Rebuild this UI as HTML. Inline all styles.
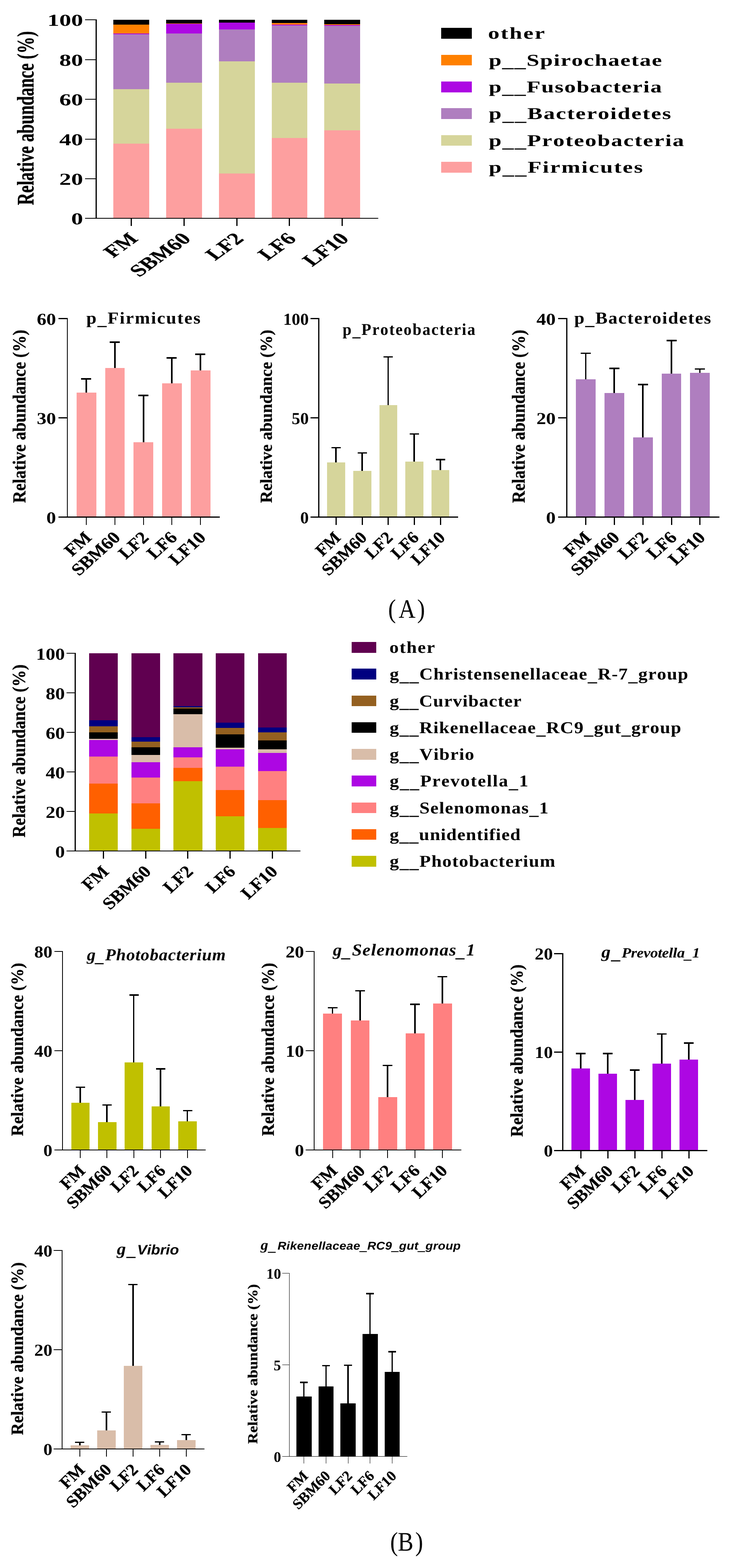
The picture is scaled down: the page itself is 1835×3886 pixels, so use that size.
<!DOCTYPE html>
<html lang="en"><head><meta charset="utf-8"><title>Relative abundance of intestinal microbiota</title>
<style>
html,body{margin:0;padding:0;background:#fff}
body{width:1835px;height:3886px;overflow:hidden}
svg{display:block}
text{fill:#000;font-kerning:none;text-rendering:geometricPrecision}
text.r{stroke:#000;stroke-width:0.4px;stroke-linejoin:round}
</style></head><body>
<svg width="1835" height="3886" viewBox="0 0 1835 3886" shape-rendering="crispEdges">
<rect x="0" y="0" width="1835" height="3886" fill="#fff"/>
<rect x="281.00" y="48.50" width="89.00" height="12.50" fill="#000"/>
<rect x="281.00" y="61.00" width="89.00" height="22.00" fill="#FF8000"/>
<rect x="281.00" y="83.00" width="89.00" height="2.00" fill="#AD07E3"/>
<rect x="281.00" y="85.00" width="89.00" height="136.00" fill="#AF7EBF"/>
<rect x="281.00" y="221.00" width="89.00" height="135.00" fill="#D6D59B"/>
<rect x="281.00" y="356.00" width="89.00" height="185.00" fill="#FD9F9F"/>
<rect x="412.00" y="48.50" width="89.00" height="9.50" fill="#000"/>
<rect x="412.00" y="58.00" width="89.00" height="1.00" fill="#FF8000"/>
<rect x="412.00" y="59.00" width="89.00" height="24.00" fill="#AD07E3"/>
<rect x="412.00" y="83.00" width="89.00" height="122.00" fill="#AF7EBF"/>
<rect x="412.00" y="205.00" width="89.00" height="114.00" fill="#D6D59B"/>
<rect x="412.00" y="319.00" width="89.00" height="222.00" fill="#FD9F9F"/>
<rect x="543.00" y="48.50" width="89.00" height="7.50" fill="#000"/>
<rect x="543.00" y="56.00" width="89.00" height="17.00" fill="#AD07E3"/>
<rect x="543.00" y="73.00" width="89.00" height="79.00" fill="#AF7EBF"/>
<rect x="543.00" y="152.00" width="89.00" height="278.00" fill="#D6D59B"/>
<rect x="543.00" y="430.00" width="89.00" height="111.00" fill="#FD9F9F"/>
<rect x="674.00" y="48.50" width="88.00" height="8.50" fill="#000"/>
<rect x="674.00" y="57.00" width="88.00" height="4.00" fill="#FF8000"/>
<rect x="674.00" y="61.00" width="88.00" height="2.00" fill="#AD07E3"/>
<rect x="674.00" y="63.00" width="88.00" height="142.00" fill="#AF7EBF"/>
<rect x="674.00" y="205.00" width="88.00" height="137.00" fill="#D6D59B"/>
<rect x="674.00" y="342.00" width="88.00" height="199.00" fill="#FD9F9F"/>
<rect x="804.00" y="48.50" width="89.00" height="11.00" fill="#000"/>
<rect x="804.00" y="59.50" width="89.00" height="2.50" fill="#FF8000"/>
<rect x="804.00" y="62.00" width="89.00" height="2.00" fill="#AD07E3"/>
<rect x="804.00" y="64.00" width="89.00" height="143.00" fill="#AF7EBF"/>
<rect x="804.00" y="207.00" width="89.00" height="116.00" fill="#D6D59B"/>
<rect x="804.00" y="323.00" width="89.00" height="218.00" fill="#FD9F9F"/>
<rect x="237.00" y="48.00" width="3.00" height="494.00" fill="#000"/>
<rect x="211.00" y="48.00" width="27.50" height="2.00" fill="#000"/>
<text transform="matrix(1.47325 0.00000 0.00000 1.03750 117.46 64.00)" font-family="'Liberation Serif', serif" font-weight="bold" font-style="normal" font-size="40" >100</text>
<rect x="211.00" y="146.50" width="27.50" height="2.00" fill="#000"/>
<text transform="matrix(1.47325 0.00000 0.00000 1.03750 146.93 162.50)" font-family="'Liberation Serif', serif" font-weight="bold" font-style="normal" font-size="40" >80</text>
<rect x="211.00" y="245.00" width="27.50" height="2.00" fill="#000"/>
<text transform="matrix(1.47325 0.00000 0.00000 1.03750 146.93 261.00)" font-family="'Liberation Serif', serif" font-weight="bold" font-style="normal" font-size="40" >60</text>
<rect x="211.00" y="343.50" width="27.50" height="2.00" fill="#000"/>
<text transform="matrix(1.47325 0.00000 0.00000 1.03750 146.93 359.50)" font-family="'Liberation Serif', serif" font-weight="bold" font-style="normal" font-size="40" >40</text>
<rect x="211.00" y="442.00" width="27.50" height="2.00" fill="#000"/>
<text transform="matrix(1.47325 0.00000 0.00000 1.03750 146.93 458.00)" font-family="'Liberation Serif', serif" font-weight="bold" font-style="normal" font-size="40" >20</text>
<rect x="211.00" y="540.00" width="27.50" height="2.00" fill="#000"/>
<text transform="matrix(1.47325 0.00000 0.00000 1.03750 176.39 556.00)" font-family="'Liberation Serif', serif" font-weight="bold" font-style="normal" font-size="40" >0</text>
<rect x="211.00" y="540.00" width="726.50" height="2.00" fill="#000"/>
<rect x="324.00" y="541.00" width="3.00" height="18.50" fill="#000"/>
<text transform="matrix(1.03202 -0.74246 1.03202 0.74246 280.82 640.17)" font-family="'Liberation Serif', serif" font-weight="bold" font-style="normal" font-size="40"  class="r">FM</text>
<rect x="455.00" y="541.00" width="3.00" height="18.50" fill="#000"/>
<text transform="matrix(1.03202 -0.74246 1.03202 0.74246 345.26 688.06)" font-family="'Liberation Serif', serif" font-weight="bold" font-style="normal" font-size="40"  class="r">SBM60</text>
<rect x="586.00" y="541.00" width="3.00" height="18.50" fill="#000"/>
<text transform="matrix(1.03202 -0.74246 1.03202 0.74246 533.61 646.80)" font-family="'Liberation Serif', serif" font-weight="bold" font-style="normal" font-size="40"  class="r">LF2</text>
<rect x="716.00" y="541.00" width="3.00" height="18.50" fill="#000"/>
<text transform="matrix(1.03202 -0.74246 1.03202 0.74246 663.61 646.80)" font-family="'Liberation Serif', serif" font-weight="bold" font-style="normal" font-size="40"  class="r">LF6</text>
<rect x="847.00" y="541.00" width="3.00" height="18.50" fill="#000"/>
<text transform="matrix(1.03202 -0.74246 1.03202 0.74246 773.97 661.65)" font-family="'Liberation Serif', serif" font-weight="bold" font-style="normal" font-size="40"  class="r">LF10</text>
<text transform="matrix(0.00000 -1.04258 1.46978 0.00000 83.36 508.13)" font-family="'Liberation Serif', serif" font-weight="bold" font-style="normal" font-size="40"  class="r">Relative abundance (%)</text>
<rect x="1094.00" y="69.00" width="76.00" height="26.50" fill="#000"/>
<text transform="matrix(1.41450 0.00000 0.00000 1.02500 1210.24 96.00)" font-family="'Liberation Serif', serif" font-weight="bold" font-style="normal" font-size="40" letter-spacing="2.102">other</text>
<rect x="1094.00" y="135.50" width="76.00" height="26.50" fill="#FF8000"/>
<text transform="matrix(1.41450 0.00000 0.00000 1.02500 1211.93 162.50)" font-family="'Liberation Serif', serif" font-weight="bold" font-style="normal" font-size="40" letter-spacing="1.373">p<tspan dy="3.30">__</tspan><tspan dy="-3.30">Spirochaetae</tspan></text>
<rect x="1094.00" y="202.00" width="76.00" height="26.50" fill="#AD07E3"/>
<text transform="matrix(1.41450 0.00000 0.00000 1.02500 1211.93 229.00)" font-family="'Liberation Serif', serif" font-weight="bold" font-style="normal" font-size="40" letter-spacing="1.345">p<tspan dy="3.30">__</tspan><tspan dy="-3.30">Fusobacteria</tspan></text>
<rect x="1094.00" y="268.40" width="76.00" height="26.50" fill="#AF7EBF"/>
<text transform="matrix(1.41450 0.00000 0.00000 1.02500 1211.93 295.40)" font-family="'Liberation Serif', serif" font-weight="bold" font-style="normal" font-size="40" letter-spacing="1.756">p<tspan dy="3.30">__</tspan><tspan dy="-3.30">Bacteroidetes</tspan></text>
<rect x="1094.00" y="334.80" width="76.00" height="26.50" fill="#D6D59B"/>
<text transform="matrix(1.41450 0.00000 0.00000 1.02500 1211.93 361.80)" font-family="'Liberation Serif', serif" font-weight="bold" font-style="normal" font-size="40" letter-spacing="1.669">p<tspan dy="3.30">__</tspan><tspan dy="-3.30">Proteobacteria</tspan></text>
<rect x="1094.00" y="401.20" width="76.00" height="26.50" fill="#FD9F9F"/>
<text transform="matrix(1.41450 0.00000 0.00000 1.02500 1211.93 428.20)" font-family="'Liberation Serif', serif" font-weight="bold" font-style="normal" font-size="40" letter-spacing="1.954">p<tspan dy="3.30">__</tspan><tspan dy="-3.30">Firmicutes</tspan></text>
<rect x="212.00" y="939.00" width="4.00" height="35.00" fill="#000"/>
<rect x="201.00" y="937.00" width="25.00" height="4.00" fill="#000"/>
<rect x="190.00" y="973.00" width="49.00" height="308.50" fill="#FD9F9F"/>
<rect x="283.00" y="847.50" width="4.00" height="65.50" fill="#000"/>
<rect x="272.00" y="845.50" width="25.00" height="4.00" fill="#000"/>
<rect x="261.00" y="912.00" width="48.00" height="369.50" fill="#FD9F9F"/>
<rect x="353.50" y="980.00" width="4.00" height="117.00" fill="#000"/>
<rect x="342.50" y="978.00" width="25.00" height="4.00" fill="#000"/>
<rect x="331.00" y="1096.00" width="49.00" height="185.50" fill="#FD9F9F"/>
<rect x="424.00" y="886.50" width="4.00" height="64.50" fill="#000"/>
<rect x="413.00" y="884.50" width="25.00" height="4.00" fill="#000"/>
<rect x="402.00" y="950.00" width="49.00" height="331.50" fill="#FD9F9F"/>
<rect x="495.00" y="878.00" width="4.00" height="41.00" fill="#000"/>
<rect x="484.00" y="876.00" width="25.00" height="4.00" fill="#000"/>
<rect x="473.00" y="918.00" width="49.00" height="363.50" fill="#FD9F9F"/>
<rect x="166.00" y="788.00" width="2.00" height="495.00" fill="#000"/>
<rect x="145.00" y="788.00" width="22.00" height="3.00" fill="#000"/>
<text transform="matrix(1.19312 0.00000 0.00000 1.03750 91.18 805.30)" font-family="'Liberation Serif', serif" font-weight="bold" font-style="normal" font-size="40" >60</text>
<rect x="145.00" y="1034.00" width="22.00" height="3.00" fill="#000"/>
<text transform="matrix(1.19312 0.00000 0.00000 1.03750 91.18 1051.30)" font-family="'Liberation Serif', serif" font-weight="bold" font-style="normal" font-size="40" >30</text>
<rect x="145.00" y="1280.00" width="22.00" height="3.00" fill="#000"/>
<text transform="matrix(1.19312 0.00000 0.00000 1.03750 115.05 1297.30)" font-family="'Liberation Serif', serif" font-weight="bold" font-style="normal" font-size="40" >0</text>
<rect x="145.00" y="1280.00" width="400.00" height="3.00" fill="#000"/>
<rect x="213.00" y="1281.50" width="2.00" height="19.50" fill="#000"/>
<text transform="matrix(0.83156 -0.74246 0.83156 0.74246 178.29 1380.87)" font-family="'Liberation Serif', serif" font-weight="bold" font-style="normal" font-size="40"  class="r">FM</text>
<rect x="284.00" y="1281.50" width="2.00" height="19.50" fill="#000"/>
<text transform="matrix(0.83156 -0.74246 0.83156 0.74246 195.66 1428.76)" font-family="'Liberation Serif', serif" font-weight="bold" font-style="normal" font-size="40"  class="r">SBM60</text>
<rect x="354.50" y="1281.50" width="2.00" height="19.50" fill="#000"/>
<text transform="matrix(0.83156 -0.74246 0.83156 0.74246 312.36 1387.50)" font-family="'Liberation Serif', serif" font-weight="bold" font-style="normal" font-size="40"  class="r">LF2</text>
<rect x="425.00" y="1281.50" width="2.00" height="19.50" fill="#000"/>
<text transform="matrix(0.83156 -0.74246 0.83156 0.74246 382.86 1387.50)" font-family="'Liberation Serif', serif" font-weight="bold" font-style="normal" font-size="40"  class="r">LF6</text>
<rect x="496.00" y="1281.50" width="2.00" height="19.50" fill="#000"/>
<text transform="matrix(0.83156 -0.74246 0.83156 0.74246 437.23 1402.35)" font-family="'Liberation Serif', serif" font-weight="bold" font-style="normal" font-size="40"  class="r">LF10</text>
<text transform="matrix(0.00000 -1.03893 1.14011 0.00000 62.70 1246.62)" font-family="'Liberation Serif', serif" font-weight="bold" font-style="normal" font-size="40"  class="r">Relative abundance (%)</text>
<text transform="matrix(1.13088 0.00000 0.00000 1.03750 214.05 801.70)" font-family="'Liberation Serif', serif" font-weight="bold" font-style="normal" font-size="40" letter-spacing="2.157">p<tspan dy="3.30">_</tspan><tspan dy="-3.30">Firmicutes</tspan></text>
<rect x="831.25" y="1109.50" width="3.50" height="37.50" fill="#000"/>
<rect x="821.50" y="1107.75" width="23.00" height="3.50" fill="#000"/>
<rect x="811.00" y="1146.00" width="45.00" height="135.50" fill="#D6D59B"/>
<rect x="896.25" y="1122.50" width="3.50" height="45.50" fill="#000"/>
<rect x="886.50" y="1120.75" width="23.00" height="3.50" fill="#000"/>
<rect x="876.00" y="1167.00" width="45.00" height="114.50" fill="#D6D59B"/>
<rect x="960.75" y="884.50" width="3.50" height="120.50" fill="#000"/>
<rect x="951.00" y="882.75" width="23.00" height="3.50" fill="#000"/>
<rect x="941.00" y="1004.00" width="44.00" height="277.50" fill="#D6D59B"/>
<rect x="1025.25" y="1075.50" width="3.50" height="69.50" fill="#000"/>
<rect x="1015.50" y="1073.75" width="23.00" height="3.50" fill="#000"/>
<rect x="1005.00" y="1144.00" width="45.00" height="137.50" fill="#D6D59B"/>
<rect x="1090.25" y="1139.00" width="3.50" height="27.00" fill="#000"/>
<rect x="1080.50" y="1137.25" width="23.00" height="3.50" fill="#000"/>
<rect x="1070.00" y="1165.00" width="44.00" height="116.50" fill="#D6D59B"/>
<rect x="789.00" y="788.00" width="3.00" height="495.00" fill="#000"/>
<rect x="770.00" y="788.00" width="20.50" height="3.00" fill="#000"/>
<text transform="matrix(1.05825 0.00000 0.00000 1.03750 702.20 805.30)" font-family="'Liberation Serif', serif" font-weight="bold" font-style="normal" font-size="40" >100</text>
<rect x="770.00" y="1034.00" width="20.50" height="3.00" fill="#000"/>
<text transform="matrix(1.05825 0.00000 0.00000 1.03750 723.36 1051.30)" font-family="'Liberation Serif', serif" font-weight="bold" font-style="normal" font-size="40" >50</text>
<rect x="770.00" y="1280.00" width="20.50" height="3.00" fill="#000"/>
<text transform="matrix(1.05825 0.00000 0.00000 1.03750 744.53 1297.30)" font-family="'Liberation Serif', serif" font-weight="bold" font-style="normal" font-size="40" >0</text>
<rect x="770.00" y="1280.00" width="366.00" height="3.00" fill="#000"/>
<rect x="831.50" y="1281.50" width="3.00" height="19.50" fill="#000"/>
<text transform="matrix(0.76474 -0.74246 0.76474 0.74246 799.44 1380.87)" font-family="'Liberation Serif', serif" font-weight="bold" font-style="normal" font-size="40"  class="r">FM</text>
<rect x="896.50" y="1281.50" width="3.00" height="19.50" fill="#000"/>
<text transform="matrix(0.76474 -0.74246 0.76474 0.74246 815.12 1428.76)" font-family="'Liberation Serif', serif" font-weight="bold" font-style="normal" font-size="40"  class="r">SBM60</text>
<rect x="961.00" y="1281.50" width="3.00" height="19.50" fill="#000"/>
<text transform="matrix(0.76474 -0.74246 0.76474 0.74246 922.12 1387.50)" font-family="'Liberation Serif', serif" font-weight="bold" font-style="normal" font-size="40"  class="r">LF2</text>
<rect x="1025.50" y="1281.50" width="3.00" height="19.50" fill="#000"/>
<text transform="matrix(0.76474 -0.74246 0.76474 0.74246 986.62 1387.50)" font-family="'Liberation Serif', serif" font-weight="bold" font-style="normal" font-size="40"  class="r">LF6</text>
<rect x="1090.50" y="1281.50" width="3.00" height="19.50" fill="#000"/>
<text transform="matrix(0.76474 -0.74246 0.76474 0.74246 1036.32 1402.35)" font-family="'Liberation Serif', serif" font-weight="bold" font-style="normal" font-size="40"  class="r">LF10</text>
<text transform="matrix(0.00000 -1.03893 1.04396 0.00000 674.02 1246.62)" font-family="'Liberation Serif', serif" font-weight="bold" font-style="normal" font-size="40"  class="r">Relative abundance (%)</text>
<text transform="matrix(0.99425 0.00000 0.00000 1.02500 849.60 830.00)" font-family="'Liberation Serif', serif" font-weight="bold" font-style="normal" font-size="40" letter-spacing="2.366">p<tspan dy="3.30">_</tspan><tspan dy="-3.30">Proteobacteria</tspan></text>
<rect x="1450.75" y="875.50" width="3.50" height="65.50" fill="#000"/>
<rect x="1440.00" y="873.75" width="25.00" height="3.50" fill="#000"/>
<rect x="1428.00" y="940.00" width="49.00" height="341.50" fill="#AF7EBF"/>
<rect x="1521.25" y="913.00" width="3.50" height="62.00" fill="#000"/>
<rect x="1510.50" y="911.25" width="25.00" height="3.50" fill="#000"/>
<rect x="1499.00" y="974.00" width="49.00" height="307.50" fill="#AF7EBF"/>
<rect x="1592.25" y="953.00" width="3.50" height="132.00" fill="#000"/>
<rect x="1581.50" y="951.25" width="25.00" height="3.50" fill="#000"/>
<rect x="1570.00" y="1084.00" width="49.00" height="197.50" fill="#AF7EBF"/>
<rect x="1663.25" y="844.00" width="3.50" height="83.00" fill="#000"/>
<rect x="1652.50" y="842.25" width="25.00" height="3.50" fill="#000"/>
<rect x="1641.00" y="926.00" width="48.00" height="355.50" fill="#AF7EBF"/>
<rect x="1733.75" y="914.50" width="3.50" height="10.50" fill="#000"/>
<rect x="1723.00" y="912.75" width="25.00" height="3.50" fill="#000"/>
<rect x="1711.00" y="924.00" width="49.00" height="357.50" fill="#AF7EBF"/>
<rect x="1404.00" y="788.00" width="3.00" height="495.00" fill="#000"/>
<rect x="1383.50" y="788.00" width="22.00" height="3.00" fill="#000"/>
<text transform="matrix(1.19312 0.00000 0.00000 1.03750 1330.18 805.30)" font-family="'Liberation Serif', serif" font-weight="bold" font-style="normal" font-size="40" >40</text>
<rect x="1383.50" y="1034.00" width="22.00" height="3.00" fill="#000"/>
<text transform="matrix(1.19312 0.00000 0.00000 1.03750 1330.18 1051.30)" font-family="'Liberation Serif', serif" font-weight="bold" font-style="normal" font-size="40" >20</text>
<rect x="1383.50" y="1280.00" width="22.00" height="3.00" fill="#000"/>
<text transform="matrix(1.19312 0.00000 0.00000 1.03750 1354.05 1297.30)" font-family="'Liberation Serif', serif" font-weight="bold" font-style="normal" font-size="40" >0</text>
<rect x="1383.50" y="1280.00" width="400.50" height="3.00" fill="#000"/>
<rect x="1451.00" y="1281.50" width="3.00" height="19.50" fill="#000"/>
<text transform="matrix(0.83156 -0.74246 0.83156 0.74246 1416.79 1380.87)" font-family="'Liberation Serif', serif" font-weight="bold" font-style="normal" font-size="40"  class="r">FM</text>
<rect x="1521.50" y="1281.50" width="3.00" height="19.50" fill="#000"/>
<text transform="matrix(0.83156 -0.74246 0.83156 0.74246 1433.66 1428.76)" font-family="'Liberation Serif', serif" font-weight="bold" font-style="normal" font-size="40"  class="r">SBM60</text>
<rect x="1592.50" y="1281.50" width="3.00" height="19.50" fill="#000"/>
<text transform="matrix(0.83156 -0.74246 0.83156 0.74246 1550.86 1387.50)" font-family="'Liberation Serif', serif" font-weight="bold" font-style="normal" font-size="40"  class="r">LF2</text>
<rect x="1663.50" y="1281.50" width="3.00" height="19.50" fill="#000"/>
<text transform="matrix(0.83156 -0.74246 0.83156 0.74246 1621.86 1387.50)" font-family="'Liberation Serif', serif" font-weight="bold" font-style="normal" font-size="40"  class="r">LF6</text>
<rect x="1734.00" y="1281.50" width="3.00" height="19.50" fill="#000"/>
<text transform="matrix(0.83156 -0.74246 0.83156 0.74246 1675.73 1402.35)" font-family="'Liberation Serif', serif" font-weight="bold" font-style="normal" font-size="40"  class="r">LF10</text>
<text transform="matrix(0.00000 -1.03893 1.14011 0.00000 1301.20 1246.62)" font-family="'Liberation Serif', serif" font-weight="bold" font-style="normal" font-size="40"  class="r">Relative abundance (%)</text>
<text transform="matrix(1.13088 0.00000 0.00000 1.03750 1424.05 801.70)" font-family="'Liberation Serif', serif" font-weight="bold" font-style="normal" font-size="40" letter-spacing="1.903">p<tspan dy="3.30">_</tspan><tspan dy="-3.30">Bacteroidetes</tspan></text>
<text transform="matrix(1.45000 0 0 1.64835 0 1530.82)" font-family="'Liberation Serif', serif" font-size="40" x="663.79 681.71 713.43">(A)</text>
<rect x="221.00" y="1619.00" width="71.00" height="166.00" fill="#600050"/>
<rect x="221.00" y="1785.00" width="71.00" height="15.00" fill="#000080"/>
<rect x="221.00" y="1800.00" width="71.00" height="15.00" fill="#946020"/>
<rect x="221.00" y="1815.00" width="71.00" height="16.00" fill="#000"/>
<rect x="221.00" y="1831.00" width="71.00" height="3.00" fill="#D9BDA9"/>
<rect x="221.00" y="1834.00" width="71.00" height="41.00" fill="#AD07E3"/>
<rect x="221.00" y="1875.00" width="71.00" height="67.00" fill="#FF8080"/>
<rect x="221.00" y="1942.00" width="71.00" height="74.00" fill="#FF6000"/>
<rect x="221.00" y="2016.00" width="71.00" height="93.00" fill="#C0C000"/>
<rect x="326.00" y="1619.00" width="71.00" height="208.00" fill="#600050"/>
<rect x="326.00" y="1827.00" width="71.00" height="11.00" fill="#000080"/>
<rect x="326.00" y="1838.00" width="71.00" height="14.00" fill="#946020"/>
<rect x="326.00" y="1852.00" width="71.00" height="19.00" fill="#000"/>
<rect x="326.00" y="1871.00" width="71.00" height="18.00" fill="#D9BDA9"/>
<rect x="326.00" y="1889.00" width="71.00" height="38.00" fill="#AD07E3"/>
<rect x="326.00" y="1927.00" width="71.00" height="64.00" fill="#FF8080"/>
<rect x="326.00" y="1991.00" width="71.00" height="63.00" fill="#FF6000"/>
<rect x="326.00" y="2054.00" width="71.00" height="55.00" fill="#C0C000"/>
<rect x="430.00" y="1619.00" width="72.00" height="131.00" fill="#600050"/>
<rect x="430.00" y="1750.00" width="72.00" height="3.00" fill="#000080"/>
<rect x="430.00" y="1753.00" width="72.00" height="3.00" fill="#946020"/>
<rect x="430.00" y="1756.00" width="72.00" height="14.00" fill="#000"/>
<rect x="430.00" y="1770.00" width="72.00" height="82.00" fill="#D9BDA9"/>
<rect x="430.00" y="1852.00" width="72.00" height="25.00" fill="#AD07E3"/>
<rect x="430.00" y="1877.00" width="72.00" height="26.00" fill="#FF8080"/>
<rect x="430.00" y="1903.00" width="72.00" height="33.00" fill="#FF6000"/>
<rect x="430.00" y="1936.00" width="72.00" height="173.00" fill="#C0C000"/>
<rect x="535.00" y="1619.00" width="71.00" height="172.00" fill="#600050"/>
<rect x="535.00" y="1791.00" width="71.00" height="13.00" fill="#000080"/>
<rect x="535.00" y="1804.00" width="71.00" height="16.00" fill="#946020"/>
<rect x="535.00" y="1820.00" width="71.00" height="33.00" fill="#000"/>
<rect x="535.00" y="1853.00" width="71.00" height="4.00" fill="#D9BDA9"/>
<rect x="535.00" y="1857.00" width="71.00" height="43.00" fill="#AD07E3"/>
<rect x="535.00" y="1900.00" width="71.00" height="58.00" fill="#FF8080"/>
<rect x="535.00" y="1958.00" width="71.00" height="65.00" fill="#FF6000"/>
<rect x="535.00" y="2023.00" width="71.00" height="86.00" fill="#C0C000"/>
<rect x="640.00" y="1619.00" width="71.00" height="184.00" fill="#600050"/>
<rect x="640.00" y="1803.00" width="71.00" height="12.00" fill="#000080"/>
<rect x="640.00" y="1815.00" width="71.00" height="20.00" fill="#946020"/>
<rect x="640.00" y="1835.00" width="71.00" height="22.00" fill="#000"/>
<rect x="640.00" y="1857.00" width="71.00" height="9.00" fill="#D9BDA9"/>
<rect x="640.00" y="1866.00" width="71.00" height="45.00" fill="#AD07E3"/>
<rect x="640.00" y="1911.00" width="71.00" height="72.00" fill="#FF8080"/>
<rect x="640.00" y="1983.00" width="71.00" height="69.00" fill="#FF6000"/>
<rect x="640.00" y="2052.00" width="71.00" height="57.00" fill="#C0C000"/>
<rect x="185.00" y="1618.00" width="3.00" height="492.00" fill="#000"/>
<rect x="165.00" y="1618.00" width="21.50" height="2.00" fill="#000"/>
<text transform="matrix(1.19312 0.00000 0.00000 1.03750 89.32 1634.80)" font-family="'Liberation Serif', serif" font-weight="bold" font-style="normal" font-size="40" >100</text>
<rect x="165.00" y="1716.00" width="21.50" height="2.00" fill="#000"/>
<text transform="matrix(1.19312 0.00000 0.00000 1.03750 113.18 1732.80)" font-family="'Liberation Serif', serif" font-weight="bold" font-style="normal" font-size="40" >80</text>
<rect x="165.00" y="1814.00" width="21.50" height="2.00" fill="#000"/>
<text transform="matrix(1.19312 0.00000 0.00000 1.03750 113.18 1830.80)" font-family="'Liberation Serif', serif" font-weight="bold" font-style="normal" font-size="40" >60</text>
<rect x="165.00" y="1912.00" width="21.50" height="2.00" fill="#000"/>
<text transform="matrix(1.19312 0.00000 0.00000 1.03750 113.18 1928.80)" font-family="'Liberation Serif', serif" font-weight="bold" font-style="normal" font-size="40" >40</text>
<rect x="165.00" y="2010.00" width="21.50" height="2.00" fill="#000"/>
<text transform="matrix(1.19312 0.00000 0.00000 1.03750 113.18 2026.80)" font-family="'Liberation Serif', serif" font-weight="bold" font-style="normal" font-size="40" >20</text>
<rect x="165.00" y="2108.00" width="21.50" height="2.00" fill="#000"/>
<text transform="matrix(1.19312 0.00000 0.00000 1.03750 137.05 2124.80)" font-family="'Liberation Serif', serif" font-weight="bold" font-style="normal" font-size="40" >0</text>
<rect x="165.00" y="2108.00" width="580.00" height="2.00" fill="#000"/>
<rect x="255.00" y="2109.00" width="3.00" height="19.00" fill="#000"/>
<text transform="matrix(0.82413 -0.74246 0.82413 0.74246 221.25 2208.67)" font-family="'Liberation Serif', serif" font-weight="bold" font-style="normal" font-size="40"  class="r">FM</text>
<rect x="359.50" y="2109.00" width="3.00" height="19.00" fill="#000"/>
<text transform="matrix(0.82413 -0.74246 0.82413 0.74246 272.60 2256.56)" font-family="'Liberation Serif', serif" font-weight="bold" font-style="normal" font-size="40"  class="r">SBM60</text>
<rect x="464.00" y="2109.00" width="3.00" height="19.00" fill="#000"/>
<text transform="matrix(0.82413 -0.74246 0.82413 0.74246 422.89 2215.30)" font-family="'Liberation Serif', serif" font-weight="bold" font-style="normal" font-size="40"  class="r">LF2</text>
<rect x="569.00" y="2109.00" width="3.00" height="19.00" fill="#000"/>
<text transform="matrix(0.82413 -0.74246 0.82413 0.74246 527.89 2215.30)" font-family="'Liberation Serif', serif" font-weight="bold" font-style="normal" font-size="40"  class="r">LF6</text>
<rect x="673.50" y="2109.00" width="3.00" height="19.00" fill="#000"/>
<text transform="matrix(0.82413 -0.74246 0.82413 0.74246 615.91 2230.15)" font-family="'Liberation Serif', serif" font-weight="bold" font-style="normal" font-size="40"  class="r">LF10</text>
<text transform="matrix(0.00000 -1.03771 1.14011 0.00000 61.70 2075.62)" font-family="'Liberation Serif', serif" font-weight="bold" font-style="normal" font-size="40"  class="r">Relative abundance (%)</text>
<rect x="872.00" y="1591.00" width="61.00" height="26.50" fill="#600050"/>
<text transform="matrix(1.14800 0.00000 0.00000 1.02500 965.66 1618.00)" font-family="'Liberation Serif', serif" font-weight="bold" font-style="normal" font-size="40" letter-spacing="1.755">other</text>
<rect x="872.00" y="1657.25" width="61.00" height="26.50" fill="#000080"/>
<text transform="matrix(1.14800 0.00000 0.00000 1.02500 966.35 1684.25)" font-family="'Liberation Serif', serif" font-weight="bold" font-style="normal" font-size="40" letter-spacing="1.367">g<tspan dy="3.30">__</tspan><tspan dy="-3.30">Christensenellaceae</tspan><tspan dy="3.30">_</tspan><tspan dy="-3.30">R-7</tspan><tspan dy="3.30">_</tspan><tspan dy="-3.30">group</tspan></text>
<rect x="872.00" y="1723.50" width="61.00" height="26.50" fill="#946020"/>
<text transform="matrix(1.14800 0.00000 0.00000 1.02500 966.35 1750.50)" font-family="'Liberation Serif', serif" font-weight="bold" font-style="normal" font-size="40" letter-spacing="1.205">g<tspan dy="3.30">__</tspan><tspan dy="-3.30">Curvibacter</tspan></text>
<rect x="872.00" y="1789.75" width="61.00" height="26.50" fill="#000"/>
<text transform="matrix(1.14800 0.00000 0.00000 1.02500 966.35 1816.75)" font-family="'Liberation Serif', serif" font-weight="bold" font-style="normal" font-size="40" letter-spacing="1.322">g<tspan dy="3.30">__</tspan><tspan dy="-3.30">Rikenellaceae</tspan><tspan dy="3.30">_</tspan><tspan dy="-3.30">RC9</tspan><tspan dy="3.30">_</tspan><tspan dy="-3.30">gut</tspan><tspan dy="3.30">_</tspan><tspan dy="-3.30">group</tspan></text>
<rect x="872.00" y="1856.00" width="61.00" height="26.50" fill="#D9BDA9"/>
<text transform="matrix(1.14800 0.00000 0.00000 1.02500 966.35 1883.00)" font-family="'Liberation Serif', serif" font-weight="bold" font-style="normal" font-size="40" letter-spacing="1.410">g<tspan dy="3.30">__</tspan><tspan dy="-3.30">Vibrio</tspan></text>
<rect x="872.00" y="1922.25" width="61.00" height="26.50" fill="#AD07E3"/>
<text transform="matrix(1.14800 0.00000 0.00000 1.02500 966.35 1949.25)" font-family="'Liberation Serif', serif" font-weight="bold" font-style="normal" font-size="40" letter-spacing="1.855">g<tspan dy="3.30">__</tspan><tspan dy="-3.30">Prevotella</tspan><tspan dy="3.30">_</tspan><tspan dy="-3.30">1</tspan></text>
<rect x="872.00" y="1988.50" width="61.00" height="26.50" fill="#FF8080"/>
<text transform="matrix(1.14800 0.00000 0.00000 1.02500 966.35 2015.50)" font-family="'Liberation Serif', serif" font-weight="bold" font-style="normal" font-size="40" letter-spacing="1.368">g<tspan dy="3.30">__</tspan><tspan dy="-3.30">Selenomonas</tspan><tspan dy="3.30">_</tspan><tspan dy="-3.30">1</tspan></text>
<rect x="872.00" y="2054.75" width="61.00" height="26.50" fill="#FF6000"/>
<text transform="matrix(1.14800 0.00000 0.00000 1.02500 966.35 2081.75)" font-family="'Liberation Serif', serif" font-weight="bold" font-style="normal" font-size="40" letter-spacing="1.123">g<tspan dy="3.30">__</tspan><tspan dy="-3.30">unidentified</tspan></text>
<rect x="872.00" y="2121.00" width="61.00" height="26.50" fill="#C0C000"/>
<text transform="matrix(1.14800 0.00000 0.00000 1.02500 966.35 2148.00)" font-family="'Liberation Serif', serif" font-weight="bold" font-style="normal" font-size="40" letter-spacing="1.377">g<tspan dy="3.30">__</tspan><tspan dy="-3.30">Photobacterium</tspan></text>
<rect x="197.25" y="2694.50" width="3.50" height="39.50" fill="#000"/>
<rect x="188.00" y="2692.75" width="23.00" height="3.50" fill="#000"/>
<rect x="177.00" y="2733.00" width="45.00" height="117.00" fill="#C0C000"/>
<rect x="263.25" y="2738.50" width="3.50" height="43.50" fill="#000"/>
<rect x="254.00" y="2736.75" width="23.00" height="3.50" fill="#000"/>
<rect x="243.00" y="2781.00" width="46.00" height="69.00" fill="#C0C000"/>
<rect x="329.75" y="2466.00" width="3.50" height="168.00" fill="#000"/>
<rect x="320.50" y="2464.25" width="23.00" height="3.50" fill="#000"/>
<rect x="309.00" y="2633.00" width="46.00" height="217.00" fill="#C0C000"/>
<rect x="396.25" y="2649.00" width="3.50" height="94.00" fill="#000"/>
<rect x="387.00" y="2647.25" width="23.00" height="3.50" fill="#000"/>
<rect x="376.00" y="2742.00" width="45.00" height="108.00" fill="#C0C000"/>
<rect x="462.75" y="2752.50" width="3.50" height="27.50" fill="#000"/>
<rect x="453.50" y="2750.75" width="23.00" height="3.50" fill="#000"/>
<rect x="442.00" y="2779.00" width="46.00" height="71.00" fill="#C0C000"/>
<rect x="154.00" y="2357.00" width="2.00" height="494.00" fill="#000"/>
<rect x="134.50" y="2357.00" width="20.50" height="2.00" fill="#000"/>
<text transform="matrix(1.12050 0.00000 0.00000 1.03750 84.97 2373.30)" font-family="'Liberation Serif', serif" font-weight="bold" font-style="normal" font-size="40" >80</text>
<rect x="134.50" y="2603.00" width="20.50" height="2.00" fill="#000"/>
<text transform="matrix(1.12050 0.00000 0.00000 1.03750 84.97 2619.30)" font-family="'Liberation Serif', serif" font-weight="bold" font-style="normal" font-size="40" >40</text>
<rect x="134.50" y="2849.00" width="20.50" height="2.00" fill="#000"/>
<text transform="matrix(1.12050 0.00000 0.00000 1.03750 107.38 2865.30)" font-family="'Liberation Serif', serif" font-weight="bold" font-style="normal" font-size="40" >0</text>
<rect x="134.50" y="2849.00" width="375.50" height="2.00" fill="#000"/>
<rect x="198.00" y="2850.00" width="2.00" height="20.00" fill="#000"/>
<text transform="matrix(0.77216 -0.74246 0.77216 0.74246 165.98 2950.17)" font-family="'Liberation Serif', serif" font-weight="bold" font-style="normal" font-size="40"  class="r">FM</text>
<rect x="264.00" y="2850.00" width="2.00" height="20.00" fill="#000"/>
<text transform="matrix(0.77216 -0.74246 0.77216 0.74246 182.18 2998.06)" font-family="'Liberation Serif', serif" font-weight="bold" font-style="normal" font-size="40"  class="r">SBM60</text>
<rect x="330.50" y="2850.00" width="2.00" height="20.00" fill="#000"/>
<text transform="matrix(0.77216 -0.74246 0.77216 0.74246 291.59 2956.80)" font-family="'Liberation Serif', serif" font-weight="bold" font-style="normal" font-size="40"  class="r">LF2</text>
<rect x="397.00" y="2850.00" width="2.00" height="20.00" fill="#000"/>
<text transform="matrix(0.77216 -0.74246 0.77216 0.74246 358.09 2956.80)" font-family="'Liberation Serif', serif" font-weight="bold" font-style="normal" font-size="40"  class="r">LF6</text>
<rect x="463.50" y="2850.00" width="2.00" height="20.00" fill="#000"/>
<text transform="matrix(0.77216 -0.74246 0.77216 0.74246 409.14 2971.65)" font-family="'Liberation Serif', serif" font-weight="bold" font-style="normal" font-size="40"  class="r">LF10</text>
<text transform="matrix(0.00000 -1.03893 1.07143 0.00000 56.79 2815.62)" font-family="'Liberation Serif', serif" font-weight="bold" font-style="normal" font-size="40"  class="r">Relative abundance (%)</text>
<text transform="matrix(1.07900 0.00000 0.00000 1.03750 215.46 2380.20)" font-family="'Liberation Serif', serif" font-weight="bold" font-style="italic" font-size="40" letter-spacing="0.966">g<tspan dy="3.30">_</tspan><tspan dy="-3.30">Photobacterium</tspan></text>
<rect x="822.75" y="2497.50" width="3.50" height="15.50" fill="#000"/>
<rect x="812.50" y="2495.75" width="24.00" height="3.50" fill="#000"/>
<rect x="801.00" y="2512.00" width="47.00" height="338.00" fill="#FF8080"/>
<rect x="891.25" y="2455.50" width="3.50" height="74.50" fill="#000"/>
<rect x="881.00" y="2453.75" width="24.00" height="3.50" fill="#000"/>
<rect x="870.00" y="2529.00" width="46.00" height="321.00" fill="#FF8080"/>
<rect x="959.25" y="2640.50" width="3.50" height="79.50" fill="#000"/>
<rect x="949.00" y="2638.75" width="24.00" height="3.50" fill="#000"/>
<rect x="938.00" y="2719.00" width="47.00" height="131.00" fill="#FF8080"/>
<rect x="1027.25" y="2489.00" width="3.50" height="73.00" fill="#000"/>
<rect x="1017.00" y="2487.25" width="24.00" height="3.50" fill="#000"/>
<rect x="1006.00" y="2561.00" width="47.00" height="289.00" fill="#FF8080"/>
<rect x="1095.25" y="2420.50" width="3.50" height="67.50" fill="#000"/>
<rect x="1085.00" y="2418.75" width="24.00" height="3.50" fill="#000"/>
<rect x="1074.00" y="2487.00" width="47.00" height="363.00" fill="#FF8080"/>
<rect x="778.00" y="2357.00" width="2.00" height="494.00" fill="#000"/>
<rect x="758.00" y="2357.00" width="21.00" height="2.00" fill="#000"/>
<text transform="matrix(1.14125 0.00000 0.00000 1.03750 708.18 2373.30)" font-family="'Liberation Serif', serif" font-weight="bold" font-style="normal" font-size="40" >20</text>
<rect x="758.00" y="2603.00" width="21.00" height="2.00" fill="#000"/>
<text transform="matrix(1.14125 0.00000 0.00000 1.03750 708.18 2619.30)" font-family="'Liberation Serif', serif" font-weight="bold" font-style="normal" font-size="40" >10</text>
<rect x="758.00" y="2849.00" width="21.00" height="2.00" fill="#000"/>
<text transform="matrix(1.14125 0.00000 0.00000 1.03750 731.00 2865.30)" font-family="'Liberation Serif', serif" font-weight="bold" font-style="normal" font-size="40" >0</text>
<rect x="758.00" y="2849.00" width="386.00" height="2.00" fill="#000"/>
<rect x="823.50" y="2850.00" width="2.00" height="20.00" fill="#000"/>
<text transform="matrix(0.79443 -0.74246 0.79443 0.74246 790.10 2950.17)" font-family="'Liberation Serif', serif" font-weight="bold" font-style="normal" font-size="40"  class="r">FM</text>
<rect x="892.00" y="2850.00" width="2.00" height="20.00" fill="#000"/>
<text transform="matrix(0.79443 -0.74246 0.79443 0.74246 807.36 2998.06)" font-family="'Liberation Serif', serif" font-weight="bold" font-style="normal" font-size="40"  class="r">SBM60</text>
<rect x="960.00" y="2850.00" width="2.00" height="20.00" fill="#000"/>
<text transform="matrix(0.79443 -0.74246 0.79443 0.74246 919.50 2956.80)" font-family="'Liberation Serif', serif" font-weight="bold" font-style="normal" font-size="40"  class="r">LF2</text>
<rect x="1028.00" y="2850.00" width="2.00" height="20.00" fill="#000"/>
<text transform="matrix(0.79443 -0.74246 0.79443 0.74246 987.50 2956.80)" font-family="'Liberation Serif', serif" font-weight="bold" font-style="normal" font-size="40"  class="r">LF6</text>
<rect x="1096.00" y="2850.00" width="2.00" height="20.00" fill="#000"/>
<text transform="matrix(0.79443 -0.74246 0.79443 0.74246 1039.61 2971.65)" font-family="'Liberation Serif', serif" font-weight="bold" font-style="normal" font-size="40"  class="r">LF10</text>
<text transform="matrix(0.00000 -1.03893 1.09890 0.00000 678.55 2815.62)" font-family="'Liberation Serif', serif" font-weight="bold" font-style="normal" font-size="40"  class="r">Relative abundance (%)</text>
<text transform="matrix(1.11013 0.00000 0.00000 1.03750 825.49 2368.10)" font-family="'Liberation Serif', serif" font-weight="bold" font-style="italic" font-size="40" letter-spacing="1.262">g<tspan dy="3.30">_</tspan><tspan dy="-3.30">Selenomonas</tspan><tspan dy="3.30">_</tspan><tspan dy="-3.30">1</tspan></text>
<rect x="1438.25" y="2611.00" width="3.50" height="38.00" fill="#000"/>
<rect x="1428.00" y="2609.25" width="24.00" height="3.50" fill="#000"/>
<rect x="1417.00" y="2648.00" width="46.00" height="203.50" fill="#AD07E3"/>
<rect x="1505.25" y="2611.00" width="3.50" height="51.00" fill="#000"/>
<rect x="1495.00" y="2609.25" width="24.00" height="3.50" fill="#000"/>
<rect x="1484.00" y="2661.00" width="46.00" height="190.50" fill="#AD07E3"/>
<rect x="1572.25" y="2652.00" width="3.50" height="75.00" fill="#000"/>
<rect x="1562.00" y="2650.25" width="24.00" height="3.50" fill="#000"/>
<rect x="1551.00" y="2726.00" width="46.00" height="125.50" fill="#AD07E3"/>
<rect x="1639.25" y="2562.50" width="3.50" height="74.50" fill="#000"/>
<rect x="1629.00" y="2560.75" width="24.00" height="3.50" fill="#000"/>
<rect x="1618.00" y="2636.00" width="46.00" height="215.50" fill="#AD07E3"/>
<rect x="1706.25" y="2585.00" width="3.50" height="42.00" fill="#000"/>
<rect x="1696.00" y="2583.25" width="24.00" height="3.50" fill="#000"/>
<rect x="1685.00" y="2626.00" width="46.00" height="225.50" fill="#AD07E3"/>
<rect x="1394.00" y="2362.00" width="3.00" height="491.00" fill="#000"/>
<rect x="1374.00" y="2362.00" width="21.50" height="3.00" fill="#000"/>
<text transform="matrix(1.12050 0.00000 0.00000 1.03750 1325.97 2378.30)" font-family="'Liberation Serif', serif" font-weight="bold" font-style="normal" font-size="40" >20</text>
<rect x="1374.00" y="2605.50" width="21.50" height="3.00" fill="#000"/>
<text transform="matrix(1.12050 0.00000 0.00000 1.03750 1325.97 2621.80)" font-family="'Liberation Serif', serif" font-weight="bold" font-style="normal" font-size="40" >10</text>
<rect x="1374.00" y="2850.00" width="21.50" height="3.00" fill="#000"/>
<text transform="matrix(1.12050 0.00000 0.00000 1.03750 1348.38 2866.30)" font-family="'Liberation Serif', serif" font-weight="bold" font-style="normal" font-size="40" >0</text>
<rect x="1374.00" y="2850.00" width="380.00" height="3.00" fill="#000"/>
<rect x="1438.50" y="2851.50" width="3.00" height="19.50" fill="#000"/>
<text transform="matrix(0.77959 -0.74246 0.77959 0.74246 1406.52 2951.17)" font-family="'Liberation Serif', serif" font-weight="bold" font-style="normal" font-size="40"  class="r">FM</text>
<rect x="1505.50" y="2851.50" width="3.00" height="19.50" fill="#000"/>
<text transform="matrix(0.77959 -0.74246 0.77959 0.74246 1423.24 2999.06)" font-family="'Liberation Serif', serif" font-weight="bold" font-style="normal" font-size="40"  class="r">SBM60</text>
<rect x="1572.50" y="2851.50" width="3.00" height="19.50" fill="#000"/>
<text transform="matrix(0.77959 -0.74246 0.77959 0.74246 1533.56 2957.80)" font-family="'Liberation Serif', serif" font-weight="bold" font-style="normal" font-size="40"  class="r">LF2</text>
<rect x="1639.50" y="2851.50" width="3.00" height="19.50" fill="#000"/>
<text transform="matrix(0.77959 -0.74246 0.77959 0.74246 1600.56 2957.80)" font-family="'Liberation Serif', serif" font-weight="bold" font-style="normal" font-size="40"  class="r">LF6</text>
<rect x="1706.50" y="2851.50" width="3.00" height="19.50" fill="#000"/>
<text transform="matrix(0.77959 -0.74246 0.77959 0.74246 1651.97 2972.65)" font-family="'Liberation Serif', serif" font-weight="bold" font-style="normal" font-size="40"  class="r">LF10</text>
<text transform="matrix(0.00000 -1.03406 1.09890 0.00000 1295.55 2817.62)" font-family="'Liberation Serif', serif" font-weight="bold" font-style="normal" font-size="40"  class="r">Relative abundance (%)</text>
<text transform="matrix(1.1000 0 0 1 0 2373.30)"><tspan font-family="'Liberation Serif', serif" font-weight="bold" font-style="italic" font-size="41.50" letter-spacing="3.887"><tspan x="1355.65">g</tspan><tspan dy="3.42">_</tspan></tspan><tspan font-family="'Liberation Serif', serif" font-weight="bold" font-style="italic" font-size="35.00" letter-spacing="-0.364"><tspan x="1401.27" dy="-3.42">Prevotella</tspan><tspan dy="2.89">_</tspan><tspan dy="-2.89">1</tspan></tspan></text>
<rect x="196.25" y="3574.50" width="3.50" height="8.50" fill="#000"/>
<rect x="186.00" y="3572.75" width="23.00" height="3.50" fill="#000"/>
<rect x="175.00" y="3582.00" width="46.00" height="9.00" fill="#D9BDA9"/>
<rect x="262.25" y="3499.50" width="3.50" height="46.50" fill="#000"/>
<rect x="252.00" y="3497.75" width="23.00" height="3.50" fill="#000"/>
<rect x="241.00" y="3545.00" width="46.00" height="46.00" fill="#D9BDA9"/>
<rect x="328.25" y="3183.50" width="3.50" height="202.50" fill="#000"/>
<rect x="318.00" y="3181.75" width="23.00" height="3.50" fill="#000"/>
<rect x="307.00" y="3385.00" width="46.00" height="206.00" fill="#D9BDA9"/>
<rect x="394.25" y="3573.50" width="3.50" height="8.50" fill="#000"/>
<rect x="384.00" y="3571.75" width="23.00" height="3.50" fill="#000"/>
<rect x="373.00" y="3581.00" width="46.00" height="10.00" fill="#D9BDA9"/>
<rect x="460.25" y="3555.50" width="3.50" height="14.50" fill="#000"/>
<rect x="450.00" y="3553.75" width="23.00" height="3.50" fill="#000"/>
<rect x="439.00" y="3569.00" width="46.00" height="22.00" fill="#D9BDA9"/>
<rect x="153.00" y="3098.00" width="2.00" height="494.00" fill="#000"/>
<rect x="133.00" y="3098.00" width="21.00" height="2.00" fill="#000"/>
<text transform="matrix(1.12050 0.00000 0.00000 1.03750 84.97 3114.30)" font-family="'Liberation Serif', serif" font-weight="bold" font-style="normal" font-size="40" >40</text>
<rect x="133.00" y="3344.00" width="21.00" height="2.00" fill="#000"/>
<text transform="matrix(1.12050 0.00000 0.00000 1.03750 84.97 3360.30)" font-family="'Liberation Serif', serif" font-weight="bold" font-style="normal" font-size="40" >20</text>
<rect x="133.00" y="3590.00" width="21.00" height="2.00" fill="#000"/>
<text transform="matrix(1.12050 0.00000 0.00000 1.03750 107.38 3606.30)" font-family="'Liberation Serif', serif" font-weight="bold" font-style="normal" font-size="40" >0</text>
<rect x="133.00" y="3590.00" width="374.00" height="2.00" fill="#000"/>
<rect x="197.00" y="3591.00" width="2.00" height="18.50" fill="#000"/>
<text transform="matrix(0.77216 -0.74246 0.77216 0.74246 164.98 3691.17)" font-family="'Liberation Serif', serif" font-weight="bold" font-style="normal" font-size="40"  class="r">FM</text>
<rect x="263.00" y="3591.00" width="2.00" height="18.50" fill="#000"/>
<text transform="matrix(0.77216 -0.74246 0.77216 0.74246 181.18 3739.06)" font-family="'Liberation Serif', serif" font-weight="bold" font-style="normal" font-size="40"  class="r">SBM60</text>
<rect x="329.00" y="3591.00" width="2.00" height="18.50" fill="#000"/>
<text transform="matrix(0.77216 -0.74246 0.77216 0.74246 290.09 3697.80)" font-family="'Liberation Serif', serif" font-weight="bold" font-style="normal" font-size="40"  class="r">LF2</text>
<rect x="395.00" y="3591.00" width="2.00" height="18.50" fill="#000"/>
<text transform="matrix(0.77216 -0.74246 0.77216 0.74246 356.09 3697.80)" font-family="'Liberation Serif', serif" font-weight="bold" font-style="normal" font-size="40"  class="r">LF6</text>
<rect x="461.00" y="3591.00" width="2.00" height="18.50" fill="#000"/>
<text transform="matrix(0.77216 -0.74246 0.77216 0.74246 406.64 3712.65)" font-family="'Liberation Serif', serif" font-weight="bold" font-style="normal" font-size="40"  class="r">LF10</text>
<text transform="matrix(0.00000 -1.03650 1.07143 0.00000 56.79 3556.62)" font-family="'Liberation Serif', serif" font-weight="bold" font-style="normal" font-size="40"  class="r">Relative abundance (%)</text>
<text transform="matrix(1.0800 0 0 1 0 3108.80)"><tspan font-family="'Liberation Serif', serif" font-weight="bold" font-style="italic" font-size="41.50" letter-spacing="3.864"><tspan x="268.33">g</tspan><tspan dy="3.42">_</tspan></tspan><tspan font-family="'Liberation Sans', sans-serif" font-weight="bold" font-style="italic" font-size="34.20" letter-spacing="-0.179"><tspan x="314.87" dy="-3.42">Vibrio</tspan></tspan></text>
<rect x="751.75" y="3426.00" width="3.50" height="36.00" fill="#000"/>
<rect x="743.75" y="3424.25" width="19.50" height="3.50" fill="#000"/>
<rect x="735.00" y="3461.00" width="38.00" height="148.50" fill="#000"/>
<rect x="806.75" y="3384.50" width="3.50" height="52.50" fill="#000"/>
<rect x="798.75" y="3382.75" width="19.50" height="3.50" fill="#000"/>
<rect x="790.00" y="3436.00" width="37.00" height="173.50" fill="#000"/>
<rect x="861.25" y="3383.50" width="3.50" height="95.50" fill="#000"/>
<rect x="853.25" y="3381.75" width="19.50" height="3.50" fill="#000"/>
<rect x="844.00" y="3478.00" width="38.00" height="131.50" fill="#000"/>
<rect x="915.75" y="3206.00" width="3.50" height="101.00" fill="#000"/>
<rect x="907.75" y="3204.25" width="19.50" height="3.50" fill="#000"/>
<rect x="899.00" y="3306.00" width="38.00" height="303.50" fill="#000"/>
<rect x="970.75" y="3350.00" width="3.50" height="51.00" fill="#000"/>
<rect x="962.75" y="3348.25" width="19.50" height="3.50" fill="#000"/>
<rect x="954.00" y="3400.00" width="37.00" height="209.50" fill="#000"/>
<rect x="717.00" y="3155.00" width="1.00" height="455.00" fill="#000"/>
<rect x="700.00" y="3155.00" width="17.50" height="1.00" fill="#000"/>
<text transform="matrix(0.91250 0.00000 0.00000 0.91250 660.46 3168.64)" font-family="'Liberation Serif', serif" font-weight="bold" font-style="normal" font-size="40" >10</text>
<rect x="700.00" y="3382.00" width="17.50" height="1.00" fill="#000"/>
<text transform="matrix(0.91250 0.00000 0.00000 0.91250 678.53 3395.64)" font-family="'Liberation Serif', serif" font-weight="bold" font-style="normal" font-size="40" >5</text>
<rect x="700.00" y="3609.00" width="17.50" height="1.00" fill="#000"/>
<text transform="matrix(0.91250 0.00000 0.00000 0.91250 678.71 3622.64)" font-family="'Liberation Serif', serif" font-weight="bold" font-style="normal" font-size="40" >0</text>
<rect x="700.00" y="3609.00" width="310.00" height="1.00" fill="#000"/>
<rect x="753.00" y="3609.50" width="1.00" height="17.00" fill="#000"/>
<text transform="matrix(0.64099 -0.65407 0.64099 0.65407 726.14 3700.68)" font-family="'Liberation Serif', serif" font-weight="bold" font-style="normal" font-size="40"  class="r">FM</text>
<rect x="808.00" y="3609.50" width="1.00" height="17.00" fill="#000"/>
<text transform="matrix(0.64099 -0.65407 0.64099 0.65407 739.80 3742.86)" font-family="'Liberation Serif', serif" font-weight="bold" font-style="normal" font-size="40"  class="r">SBM60</text>
<rect x="862.50" y="3609.50" width="1.00" height="17.00" fill="#000"/>
<text transform="matrix(0.64099 -0.65407 0.64099 0.65407 829.92 3706.51)" font-family="'Liberation Serif', serif" font-weight="bold" font-style="normal" font-size="40"  class="r">LF2</text>
<rect x="917.00" y="3609.50" width="1.00" height="17.00" fill="#000"/>
<text transform="matrix(0.64099 -0.65407 0.64099 0.65407 884.42 3706.51)" font-family="'Liberation Serif', serif" font-weight="bold" font-style="normal" font-size="40"  class="r">LF6</text>
<rect x="972.00" y="3609.50" width="1.00" height="17.00" fill="#000"/>
<text transform="matrix(0.64099 -0.65407 0.64099 0.65407 926.60 3719.60)" font-family="'Liberation Serif', serif" font-weight="bold" font-style="normal" font-size="40"  class="r">LF10</text>
<text transform="matrix(0.00000 -0.95925 0.85852 0.00000 638.12 3578.58)" font-family="'Liberation Serif', serif" font-weight="bold" font-style="normal" font-size="40"  class="r">Relative abundance (%)</text>
<text transform="matrix(1.0800 0 0 1 0 3097.00)"><tspan font-family="'Liberation Serif', serif" font-weight="bold" font-style="italic" font-size="35.00" letter-spacing="1.817"><tspan x="598.39">g</tspan><tspan dy="2.89">_</tspan></tspan><tspan font-family="'Liberation Sans', sans-serif" font-weight="bold" font-style="italic" font-size="28.00" letter-spacing="0.370"><tspan x="637.17" dy="-2.89">Rikenellaceae</tspan><tspan dy="2.31" stroke="#000" stroke-width="1.12">_</tspan><tspan dy="-2.31">RC9</tspan><tspan dy="2.31" stroke="#000" stroke-width="1.12">_</tspan><tspan dy="-2.31">gut</tspan><tspan dy="2.31" stroke="#000" stroke-width="1.12">_</tspan><tspan dy="-2.31">group</tspan></tspan></text>
<text transform="matrix(1.45000 0 0 1.66209 0 3842.71)" font-family="'Liberation Serif', serif" font-size="40" x="667.24 680.38 710.15">(B)</text>
</svg>
</body></html>
